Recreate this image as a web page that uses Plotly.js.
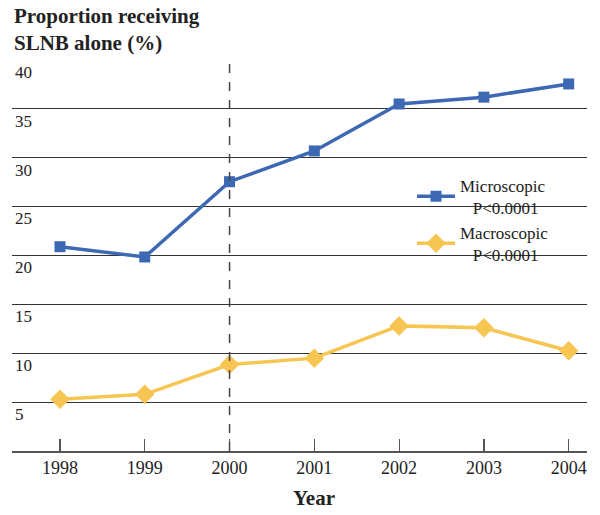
<!DOCTYPE html>
<html>
<head>
<meta charset="utf-8">
<script src="https://cdn.plot.ly/plotly-3.0.1.min.js"></script>
<style>html,body{margin:0;padding:0;background:#fff;}#chart{width:600px;height:515px;}</style>
</head>
<body>
<div id="chart"></div>
<script>
const years = [1998, 1999, 2000, 2001, 2002, 2003, 2004];
const yearLabels = ["1998", "1999", "2000", "2001", "2002", "2003", "2004"];
const microscopic = [20.9, 19.85, 27.55, 30.7, 35.5, 36.2, 37.55];
const macroscopic = [5.3, 5.8, 8.85, 9.5, 12.8, 12.6, 10.25];
const yTicks = [5, 10, 15, 20, 25, 30, 35, 40];
const seriesNames = ["Microscopic<br>\u00a0\u00a0\u00a0P<0.0001", "Macroscopic<br>\u00a0\u00a0\u00a0P<0.0001"];
const dividerYear = 2000;

const serif = "'Liberation Serif', 'Times New Roman', serif";

const traces = [
  {
    x: years, y: microscopic, name: seriesNames[0], type: "scatter", mode: "lines+markers",
    line: {color: "#3d68b3", width: 3.5},
    marker: {symbol: "square", size: 11, color: "#3d68b3"}
  },
  {
    x: years, y: macroscopic, name: seriesNames[1], type: "scatter", mode: "lines+markers",
    line: {color: "#f6c552", width: 3.5},
    marker: {symbol: "diamond", size: 15, color: "#f6c552"}
  }
];

const layout = {
  width: 600, height: 515,
  margin: {l: 12, r: 13, t: 60, b: 64},
  paper_bgcolor: "#fff", plot_bgcolor: "#fff",
  showlegend: true,
  font: {family: serif, size: 17, color: "#222"},
  xaxis: {
    range: [1997.434, 2004.216],
    tickvals: years, ticktext: yearLabels,
    ticks: "inside", ticklen: 12, tickwidth: 1.2, tickcolor: "#555",
    showline: true, linecolor: "#555", linewidth: 1.5,
    showgrid: false, zeroline: false,
    tickfont: {family: serif, size: 18, color: "#222"}
  },
  yaxis: {
    range: [0, 40],
    tickvals: yTicks, ticktext: yTicks.map(String),
    ticklabelposition: "inside bottom",
    ticks: "", showline: false, zeroline: false,
    showgrid: true, gridcolor: "#333", gridwidth: 1.2,
    tickfont: {family: serif, size: 17, color: "#222"}
  },
  legend: {
    x: 400/575, y: 0.725, xanchor: "left", yanchor: "top",
    itemwidth: 38,
    bgcolor: "rgba(0,0,0,0)",
    font: {family: serif, size: 17, color: "#222"}
  },
  shapes: [{
    type: "line", xref: "x", yref: "paper",
    x0: dividerYear, x1: dividerYear, y0: 0, y1: 1,
    line: {color: "#444", width: 1.5, dash: "dash"}
  }],
  annotations: [
    {
      text: "<b>Proportion receiving<br>SLNB alone (%)</b>",
      xref: "paper", yref: "paper", x: 0, xanchor: "left", align: "left",
      y: (451 - 57) / 391, yanchor: "bottom", showarrow: false,
      font: {family: serif, size: 21, color: "#222"}
    },
    {
      text: "<b>Year</b>", xref: "paper", yref: "paper",
      x: (314 - 12)/575, y: -0.12, xanchor: "center", yanchor: "middle",
      showarrow: false, font: {family: serif, size: 21, color: "#222"}
    }
  ]
};

Plotly.newPlot("chart", traces, layout, {displayModeBar: false, staticPlot: true});
</script>
</body>
</html>
